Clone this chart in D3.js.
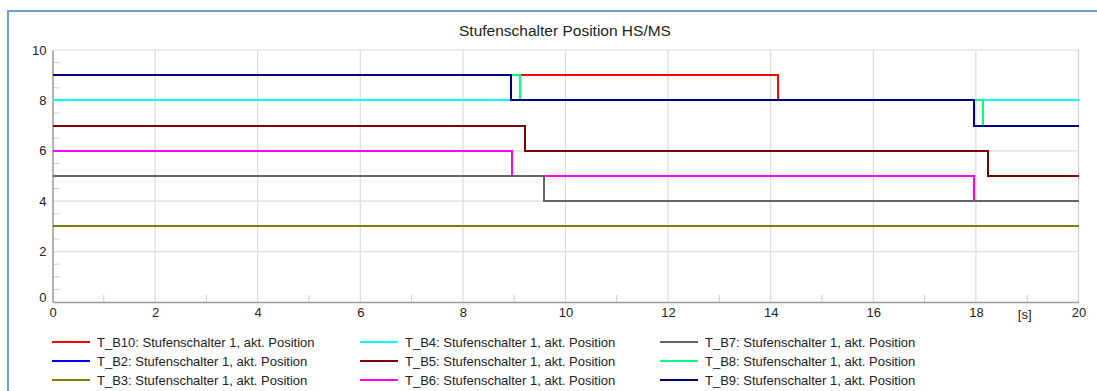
<!DOCTYPE html>
<html><head><meta charset="utf-8">
<script src="https://cdn.jsdelivr.net/npm/d3@7"></script>
<style>
body{margin:0;background:#fff;}
svg{display:block;font-family:"Liberation Sans",Arial,sans-serif;}
</style></head>
<body><svg id="c" width="1097" height="391"></svg>
<script>
const title = "Stufenschalter Position HS/MS";
const xUnit = "[s]";
const xTicks = [0,2,4,6,8,10,12,14,16,18,20];
const yTicks = [0,2,4,6,8,10];
const seriesNames = ["T_B10","T_B2","T_B3","T_B4","T_B5","T_B6","T_B7","T_B8","T_B9"];
const seriesColors = ["#ff0000","#0000ff","#808000","#00ffff","#800000","#ff00ff","#646464","#00ff80","#000080"];
// step series: [time, value] change points (value holds until next point)
const T_B10 = [[0,9],[14.15,8],[20,8]];
const T_B2  = [[0,9],[8.94,8],[17.96,7],[20,7]];
const T_B3  = [[0,3],[20,3]];
const T_B4  = [[0,8],[20,8]];
const T_B5  = [[0,7],[9.21,6],[18.23,5],[20,5]];
const T_B6  = [[0,6],[8.95,5],[17.96,4],[20,4]];
const T_B7  = [[0,5],[9.58,4],[20,4]];
const T_B8  = [[0,9],[9.12,8],[18.13,7],[20,7]];
const T_B9  = [[0,9],[8.94,8],[17.96,7],[20,7]];
const seriesData = [T_B10,T_B2,T_B3,T_B4,T_B5,T_B6,T_B7,T_B8,T_B9];
const legendSuffix = ": Stufenschalter 1, akt. Position";

const svg = d3.select("#c");
const L=52.5, R=1078.5, T=50, B=302;
const x = d3.scaleLinear().domain([0,20]).range([L,R]);
const y = d3.scaleLinear().domain([0,10]).range([B,T]);
const FS = 13;

// frame
svg.append("rect").attr("x",8).attr("y",11).attr("width",1200).attr("height",600)
  .attr("fill","none").attr("stroke","#6a9fd8").attr("stroke-width",2);

svg.append("text").attr("x",565).attr("y",36).attr("text-anchor","middle")
  .attr("font-size",15.5).attr("fill","#222").text(title);

// grid
const g = svg.append("g");
g.selectAll(".vg").data(xTicks.filter(d=>d>0)).enter().append("line")
  .attr("x1",d=>x(d)).attr("x2",d=>x(d)).attr("y1",T).attr("y2",B)
  .attr("stroke",d=>d===20?"#cfcfcf":"#dcdcdc").attr("stroke-width",1.2);
g.selectAll(".hg").data(yTicks.filter(d=>d>0)).enter().append("line")
  .attr("x1",L).attr("x2",R).attr("y1",d=>y(d)).attr("y2",d=>y(d))
  .attr("stroke","#dcdcdc").attr("stroke-width",1.2);

// minor ticks
const xMinor = d3.range(1,20,2);
g.selectAll(".xm").data(xMinor).enter().append("line")
  .attr("x1",d=>x(d)).attr("x2",d=>x(d)).attr("y1",B).attr("y2",B-7)
  .attr("stroke","#cccccc");
const yMinor = d3.range(0.5,10,0.5).filter(v=>v%2!==0);
g.selectAll(".ym").data(yMinor).enter().append("line")
  .attr("x1",L).attr("x2",L+7).attr("y1",d=>y(d)).attr("y2",d=>y(d))
  .attr("stroke","#cccccc");

// axes
const xAxis = d3.axisBottom(x).tickValues(xTicks).tickSize(0).tickPadding(6);
const xa = svg.append("g").attr("transform",`translate(0,${B})`).call(xAxis);
xa.select(".domain").attr("stroke","#9a9a9a").attr("stroke-width",1.5);
xa.selectAll("text").attr("font-size",FS).attr("fill","#222")
  .attr("font-family","Liberation Sans,Arial,sans-serif");
const yAxis = d3.axisLeft(y).tickValues(yTicks).tickSize(0).tickPadding(6);
const ya = svg.append("g").attr("transform",`translate(${L},0)`).call(yAxis);
ya.select(".domain").attr("stroke","#9a9a9a").attr("stroke-width",1.5);
ya.selectAll("text").attr("font-size",FS).attr("fill","#222")
  .attr("font-family","Liberation Sans,Arial,sans-serif")
  .attr("dy",d=>d===0?"-0.05em":"0.32em");

svg.append("text").attr("x",x(18.95)).attr("y",B+17).attr("text-anchor","middle")
  .attr("font-size",FS).attr("fill","#222").text(xUnit);

// lines
const line = d3.line().x(d=>Math.round(x(d[0]))).y(d=>Math.round(y(d[1]))).curve(d3.curveStepAfter);
svg.append("g").selectAll("path").data(seriesData).enter().append("path")
  .attr("d",d=>line(d)).attr("fill","none")
  .attr("stroke",(d,i)=>seriesColors[i]).attr("stroke-width",2);

// legend
const colX = [52,360,660];
const rowY = [342,361,380];
const lg = svg.append("g").selectAll("g").data(seriesNames).enter().append("g")
  .attr("transform",(d,i)=>`translate(${colX[Math.floor(i/3)]},${rowY[i%3]})`);
lg.append("line").attr("x1",0).attr("x2",38).attr("y1",0).attr("y2",0)
  .attr("stroke",(d,i)=>seriesColors[i]).attr("stroke-width",2);
lg.append("text").attr("x",45).attr("y",0).attr("dy","0.36em")
  .attr("font-size",FS).attr("fill","#222").text(d=>d+legendSuffix);
</script></body></html>
